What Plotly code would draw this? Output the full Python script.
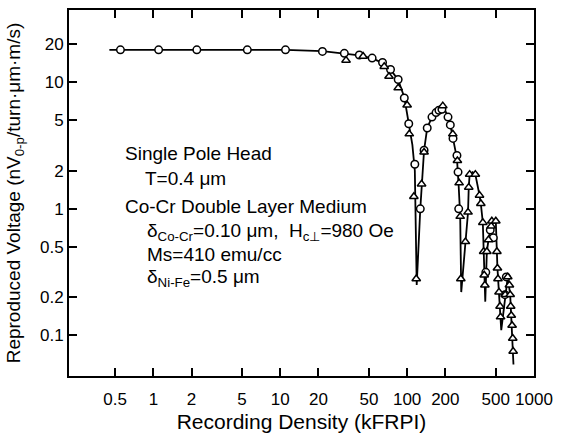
import plotly.graph_objects as go

# fitted response curve (kFRPI, voltage)
curve_x = [0.45, 0.55, 1.1, 2.2, 5.5, 11, 21.5, 32, 42, 53, 64, 74, 85, 95, 103, 110, 115,
           119, 127, 130, 136, 144, 157, 169, 188, 195, 210, 219, 230, 247, 255, 262, 267,
           288, 302, 306, 311, 328, 345, 372, 381, 395, 401, 413, 425, 438, 460, 480, 500,
           510, 515, 552, 593, 621, 649, 660, 689]
curve_y = [18, 18, 18, 18, 18, 18, 17.6, 16.9, 16.3, 15.4, 14.2, 12.6, 10.4, 7.6, 4.8, 3.2, 2.0,
           0.25, 1.0, 1.57, 2.9, 4.35, 5.3, 5.75, 6.3, 6.3, 5.3, 4.6, 3.6, 2.5, 1.5, 0.87, 0.22,
           0.55, 0.94, 1.48, 1.87, 1.95, 1.87, 1.28, 1.1, 0.78, 0.46, 0.185, 0.46, 0.57, 0.73, 0.8, 0.8,
           0.46, 0.34, 0.11, 0.21, 0.29, 0.21, 0.15, 0.059]

# measured points, circles
circ_x = [0.55, 1.1, 2.2, 5.5, 11, 21.5, 32, 42, 53, 64, 74, 85, 95, 103, 115, 127, 136, 144,
          157, 169, 178, 188, 210, 219, 230, 247, 252, 255, 417, 452, 478, 590, 605]
circ_y = [18, 18, 18, 18, 18, 17.5, 16.9, 16.4, 15.5, 14.3, 12.6, 10.5, 7.5, 4.7, 2.25, 1.0, 2.9, 4.35,
          5.3, 5.75, 6.0, 6.1, 5.3, 4.6, 3.6, 2.64, 1.95, 1.0, 0.315, 0.68, 0.59, 0.21, 0.29]

# measured points, triangles
tri_x = [33, 45, 66, 72, 85, 100, 104, 113, 118, 130, 136, 191, 229, 249, 257, 262, 265, 288,
         302, 306, 311, 345, 372, 381, 395, 401, 405, 410, 425, 438, 460, 465, 500, 510, 515,
         520, 530, 540, 545, 593, 621, 640, 649, 655, 662, 672, 680, 685]
tri_y = [14.9, 16.0, 13.3, 11.1, 9.0, 6.6, 3.9, 1.25, 0.28, 1.57, 2.8, 6.5, 3.9, 2.4, 1.6, 0.87, 0.28, 0.55,
         0.94, 1.48, 1.87, 1.87, 1.28, 1.1, 0.78, 0.46, 0.3, 0.25, 0.46, 0.57, 0.73, 0.8, 0.8, 0.46, 0.34,
         0.28, 0.22, 0.17, 0.14, 0.21, 0.29, 0.25, 0.21, 0.17, 0.144, 0.12, 0.095, 0.075]

x_ticks = [0.5, 1, 2, 5, 10, 20, 50, 100, 200, 500, 1000]
x_tick_text = ["0.5", "1", "2", "5", "10", "20", "50", "100", "200", "500", "1000"]
y_ticks = [0.1, 0.2, 0.5, 1, 2, 5, 10, 20]
y_tick_text = ["0.1", "0.2", "0.5", "1", "2", "5", "10", "20"]

FONT = "Liberation Sans"

fig = go.Figure()
fig.add_trace(go.Scatter(x=curve_x, y=curve_y, mode="lines",
                         line=dict(color="black", width=1.8), showlegend=False))
fig.add_trace(go.Scatter(x=circ_x, y=circ_y, mode="markers",
                         marker=dict(symbol="circle", size=7.5, color="white",
                                     line=dict(color="black", width=1.5)), showlegend=False))
fig.add_trace(go.Scatter(x=tri_x, y=tri_y, mode="markers",
                         marker=dict(symbol="triangle-up", size=7.5, color="white",
                                     line=dict(color="black", width=1.5)), showlegend=False))

L, R, T, B = 69, 26, 8, 60
W, H = 561, 438
pw, ph = W - L - R, H - T - B

def px(xp):
    return (xp - L) / pw

def py(yp):
    return (H - B - yp) / ph

notes = [
    (123, 153, "Single Pole Head"),
    (143, 178, "T=0.4 μm"),
    (123, 207, "Co-Cr Double Layer Medium"),
    (145, 232, "δ<sub>Co-Cr</sub>=0.10 μm,  H<sub>c⊥</sub>=980 Oe"),
    (145, 255, "Ms=410 emu/cc"),
    (145, 279, "δ<sub>Ni-Fe</sub>=0.5 μm"),
]
for xp, yp, t in notes:
    fig.add_annotation(x=px(xp), y=py(yp), xref="paper", yref="paper", text=t,
                       showarrow=False, xanchor="left", yanchor="middle",
                       font=dict(family=FONT, size=19, color="black"))

fig.update_layout(
    width=W, height=H,
    margin=dict(l=L, r=R, t=T, b=B),
    paper_bgcolor="white", plot_bgcolor="white",
    font=dict(family=FONT, color="black"),
)
fig.update_xaxes(type="log", range=[-0.665, 3.0], tickvals=x_ticks, ticktext=x_tick_text,
                 ticks="inside", ticklen=8, tickwidth=1.5, tickcolor="black",
                 showline=True, linecolor="black", linewidth=2, mirror="ticks",
                 showgrid=False, zeroline=False, ticklabelstandoff=7,
                 tickfont=dict(family=FONT, size=17),
                 title=dict(text="Recording Density (kFRPI)", font=dict(family=FONT, size=21),
                            standoff=6))
fig.update_yaxes(type="log", range=[-1.32, 1.57], tickvals=y_ticks, ticktext=y_tick_text,
                 ticks="inside", ticklen=8, tickwidth=1.5, tickcolor="black",
                 showline=True, linecolor="black", linewidth=2, mirror="ticks",
                 showgrid=False, zeroline=False,
                 tickfont=dict(family=FONT, size=17),
                 title=dict(text="Reproduced Voltage (nV<sub>0-p</sub>/turn·μm·m/s)",
                            font=dict(family=FONT, size=19), standoff=14))

fig.write_html("out.html", config={"displayModeBar": False},
               post_script="document.body.style.margin='0px';document.body.style.overflow='hidden';")
